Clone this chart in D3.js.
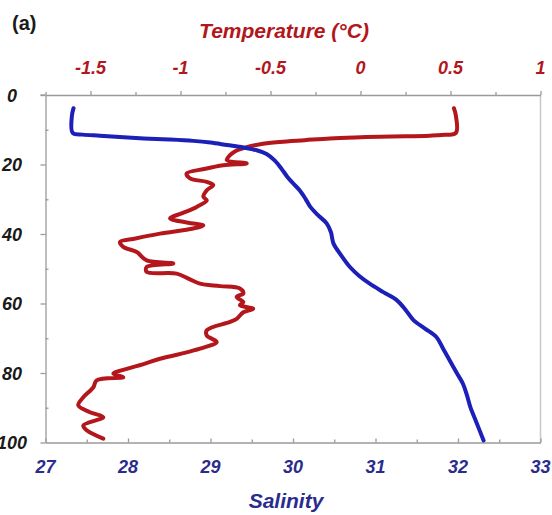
<!DOCTYPE html>
<html>
<head>
<meta charset="utf-8">
<script src="https://cdn.jsdelivr.net/npm/d3@7"></script>
<style>
  html, body { margin: 0; padding: 0; background: #fff; }
  svg { display: block; }
  text { font-family: "Liberation Sans", Arial, sans-serif; font-weight: bold; font-style: italic; }
  text.panel { font-style: normal; }
</style>
</head>
<body>
<svg id="chart" width="552" height="515"></svg>
<script>
// Salinity profile: [salinity, depth (m)]
const salinityProfile = [
  [27.34, 3.8], [27.32, 6], [27.33, 10.9], [27.45, 11.4], [27.66, 11.7], [27.9, 12.1],
  [28.19, 12.5], [28.5, 12.8], [28.79, 13.2], [29.0, 13.7], [29.2, 14.4], [29.4, 15.1],
  [29.56, 15.9], [29.68, 17.0], [29.78, 18.9], [29.86, 21.2], [29.93, 23.5], [30.0, 25.4],
  [30.08, 27.4], [30.15, 29.8], [30.21, 32.2], [30.3, 34.5], [30.41, 37.0], [30.46, 39.5],
  [30.49, 42.7], [30.58, 46.0], [30.69, 49.5], [30.8, 52.0], [30.93, 54.3], [31.1, 56.8],
  [31.26, 59.1], [31.37, 62.0], [31.46, 64.8], [31.6, 67.2], [31.74, 69.7], [31.82, 73.0],
  [31.9, 76.4], [31.98, 79.8], [32.06, 83.1], [32.11, 86.5], [32.15, 89.8], [32.22, 94.0],
  [32.31, 99.4]
];

// Temperature profile: [temperature (°C), depth (m)]
const temperatureProfile = [
  [0.519, 3.8], [0.53, 6], [0.53, 10.9], [0.45, 11.5], [0.386, 11.7], [0.25, 11.9],
  [0.108, 12.0], [-0.03, 12.2], [-0.17, 12.5], [-0.31, 13.0], [-0.447, 13.5], [-0.55, 14.1],
  [-0.632, 15.0], [-0.7, 16.3], [-0.725, 17.3], [-0.743, 18.7], [-0.632, 19.7], [-0.762, 20.2],
  [-0.87, 21.3], [-0.966, 22.6], [-0.947, 24.0], [-0.854, 25.0], [-0.818, 25.9], [-0.854, 27.4],
  [-0.873, 29.3], [-0.854, 30.3], [-0.91, 32.2], [-0.99, 34.0], [-1.058, 35.5], [-0.929, 37.0],
  [-0.873, 37.5], [-0.929, 38.4], [-1.114, 39.9], [-1.25, 41.3], [-1.336, 42.3], [-1.318, 43.7],
  [-1.243, 45.2], [-1.188, 47.6], [-1.04, 48.5], [-1.188, 49.5], [-1.188, 50.9], [-1.021, 51.4],
  [-0.95, 53.0], [-0.892, 54.3], [-0.78, 55.0], [-0.67, 55.7], [-0.651, 57.1], [-0.688, 58.1],
  [-0.651, 59.6], [-0.67, 60.5], [-0.596, 61.5], [-0.651, 62.5], [-0.688, 64.4], [-0.725, 65.3],
  [-0.854, 67.7], [-0.854, 69.2], [-0.799, 71.1], [-0.892, 73.0], [-1.0, 74.5], [-1.114, 75.9],
  [-1.21, 77.5], [-1.299, 78.8], [-1.373, 80.2], [-1.318, 81.2], [-1.466, 82.1], [-1.484, 84.1],
  [-1.54, 87.0], [-1.568, 89.3], [-1.503, 91.3], [-1.429, 92.7], [-1.54, 95.1], [-1.521, 96.5],
  [-1.429, 98.9]
];

const depthTicks = [0, 20, 40, 60, 80, 100];
const depthMinorTicks = [10, 30, 50, 70, 90];
const salinityTicks = [27, 28, 29, 30, 31, 32, 33];
const salinityMinorTicks = [27.5, 28.5, 29.5, 30.5, 31.5, 32.5];
const temperatureTicks = [-1.5, -1, -0.5, 0, 0.5, 1];
const temperatureMinorTicks = [-1.75, -1.25, -0.75, -0.25, 0.25, 0.75];

const svg = d3.select("#chart");
const plot = { left: 45.5, right: 540.5, top: 95, bottom: 442.5 };

const xSal = d3.scaleLinear().domain([27, 33]).range([plot.left, plot.right]);
const xTemp = d3.scaleLinear().domain([-1.75, 1]).range([plot.left, plot.right]);
const yDepth = d3.scaleLinear().domain([0, 100]).range([plot.top, plot.bottom]);

const axisColor = "#9a9a9a";
const redColor = "#b3161b";
const blueColor = "#1c1fb8";
const labelBlue = "#2a2c8c";
const fmt = d => String(d);

// Frame on the right side
svg.append("line")
  .attr("x1", plot.right).attr("x2", plot.right)
  .attr("y1", plot.top).attr("y2", plot.bottom)
  .attr("stroke", "#c8c8c8").attr("stroke-width", 1.5);

function styleAxis(g) {
  g.selectAll("path, line").attr("stroke", axisColor).attr("stroke-width", 1.3);
}

// Depth axis (left)
svg.append("g").attr("transform", `translate(${plot.left},0)`)
  .call(d3.axisLeft(yDepth).tickValues(depthTicks).tickSize(5).tickSizeOuter(0).tickFormat(() => ""))
  .call(styleAxis);
svg.append("g").attr("transform", `translate(${plot.left},0)`)
  .call(d3.axisLeft(yDepth).tickValues(depthMinorTicks).tickSize(-3).tickSizeOuter(0).tickFormat(() => ""))
  .call(g => g.select(".domain").remove())
  .call(styleAxis);
svg.append("g").selectAll("text").data(depthTicks).join("text")
  .attr("x", 12).attr("y", d => yDepth(d) + 6.5)
  .attr("text-anchor", "middle")
  .attr("font-size", 18).attr("fill", "#1a1a1a")
  .text(fmt);

// Salinity axis (bottom)
svg.append("g").attr("transform", `translate(0,${plot.bottom})`)
  .call(d3.axisBottom(xSal).tickValues(salinityTicks).tickSize(-4).tickSizeOuter(0).tickFormat(() => ""))
  .call(styleAxis);
svg.append("g").attr("transform", `translate(0,${plot.bottom})`)
  .call(d3.axisBottom(xSal).tickValues(salinityMinorTicks).tickSize(-3).tickSizeOuter(0).tickFormat(() => ""))
  .call(g => g.select(".domain").remove())
  .call(styleAxis);
svg.append("g").selectAll("text").data(salinityTicks).join("text")
  .attr("x", d => xSal(d)).attr("y", 473)
  .attr("text-anchor", "middle")
  .attr("font-size", 18).attr("fill", labelBlue)
  .text(fmt);
svg.append("text")
  .attr("x", 286).attr("y", 508)
  .attr("text-anchor", "middle")
  .attr("font-size", 21).attr("fill", labelBlue)
  .text("Salinity");

// Temperature axis (top)
svg.append("g").attr("transform", `translate(0,${plot.top})`)
  .call(d3.axisTop(xTemp).tickValues(temperatureTicks).tickSize(4).tickSizeOuter(0).tickFormat(() => ""))
  .call(styleAxis);
svg.append("g").attr("transform", `translate(0,${plot.top})`)
  .call(d3.axisTop(xTemp).tickValues(temperatureMinorTicks).tickSize(3).tickSizeOuter(0).tickFormat(() => ""))
  .call(g => g.select(".domain").remove())
  .call(styleAxis);
svg.append("line")
  .attr("x1", plot.left - 5).attr("x2", plot.left)
  .attr("y1", plot.top).attr("y2", plot.top)
  .attr("stroke", axisColor).attr("stroke-width", 1.3);
svg.append("g").selectAll("text").data(temperatureTicks).join("text")
  .attr("x", d => xTemp(d)).attr("y", 74)
  .attr("text-anchor", "middle")
  .attr("font-size", 18).attr("fill", redColor)
  .text(fmt);
svg.append("text")
  .attr("x", 284).attr("y", 38)
  .attr("text-anchor", "middle")
  .attr("font-size", 21).attr("fill", redColor)
  .text("Temperature (°C)");

// Panel label
svg.append("text").attr("class", "panel")
  .attr("x", 12).attr("y", 30)
  .attr("font-size", 20).attr("fill", "#1a1a1a")
  .text("(a)");

// Profiles
const lineSal = d3.line().x(d => xSal(d[0])).y(d => yDepth(d[1])).curve(d3.curveCatmullRom.alpha(0.5));
const lineTemp = d3.line().x(d => xTemp(d[0])).y(d => yDepth(d[1])).curve(d3.curveCatmullRom.alpha(0.5));

svg.append("path").datum(temperatureProfile)
  .attr("d", lineTemp)
  .attr("fill", "none").attr("stroke", redColor)
  .attr("stroke-width", 4).attr("stroke-linejoin", "round").attr("stroke-linecap", "round");

svg.append("path").datum(salinityProfile)
  .attr("d", lineSal)
  .attr("fill", "none").attr("stroke", blueColor)
  .attr("stroke-width", 4).attr("stroke-linejoin", "round").attr("stroke-linecap", "round");
</script>
</body>
</html>
